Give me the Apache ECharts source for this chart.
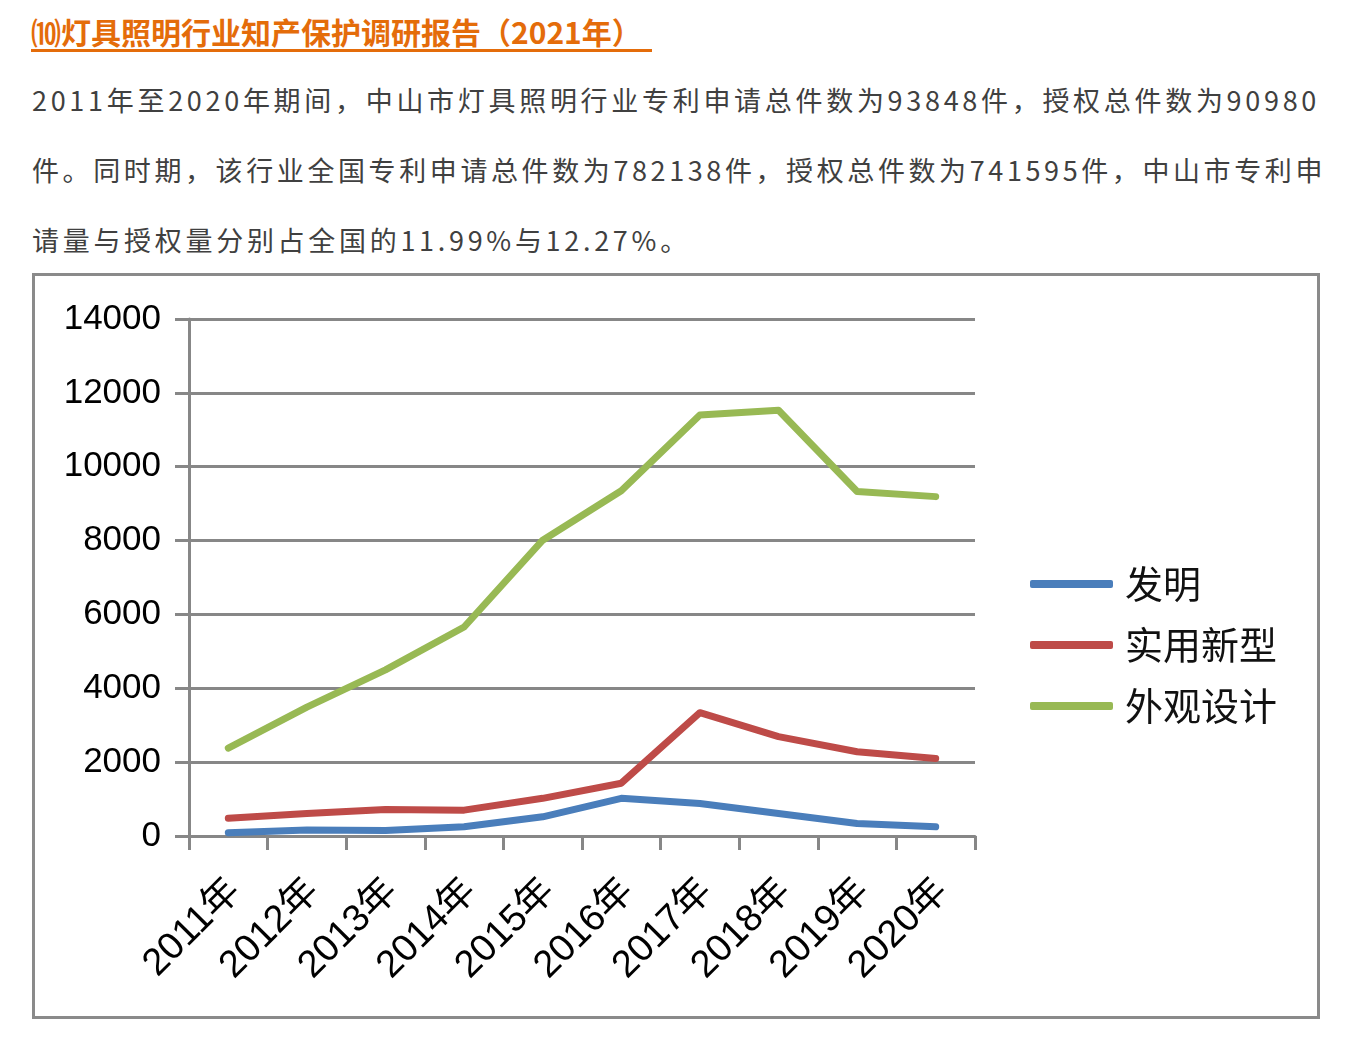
<!DOCTYPE html>
<html>
<head>
<meta charset="utf-8">
<script src="https://cdn.jsdelivr.net/npm/echarts@6/dist/echarts.min.js"></script>
<style>
  html, body { margin: 0; padding: 0; background: #fff; }
  body { width: 1358px; height: 1063px; position: relative; overflow: hidden; }
  .title {
    position: absolute; left: 31px; top: 13px;
    font-family: "Noto Sans CJK SC", sans-serif; font-weight: bold;
    font-size: 30px; line-height: 36px; color: #e46c0a;
    border-bottom: 3px solid #e46c0a; padding-right: 10px;
  }
  .para div {
    position: absolute; left: 32px;
    font-family: "Noto Sans CJK SC", sans-serif;
    font-size: 27px; line-height: 40px; color: #404040; letter-spacing: 3.7px;
    white-space: nowrap;
  }
  .box {
    position: absolute; left: 32px; top: 273px; width: 1282px; height: 740px;
    border: 3px solid #8a8a8a;
  }
  #chart { width: 1282px; height: 740px; }
</style>
</head>
<body>
<div class="title">⑽灯具照明行业知产保护调研报告（2021年）</div>
<div class="para">
  <div style="top:80px">2011年至2020年期间，中山市灯具照明行业专利申请总件数为93848件，授权总件数为90980</div>
  <div style="top:150px;letter-spacing:3.6px">件。同时期，该行业全国专利申请总件数为782138件，授权总件数为741595件，中山市专利申</div>
  <div style="top:220px">请量与授权量分别占全国的11.99%与12.27%。</div>
</div>
<div class="box"><div id="chart"></div></div>
<script>
// 年份
const years = ['2011年', '2012年', '2013年', '2014年', '2015年', '2016年', '2017年', '2018年', '2019年', '2020年']
// 发明
const invention = [90, 160, 150, 250, 520, 1020, 880, 610, 340, 250]
// 实用新型
const utilityModel = [480, 610, 720, 700, 1020, 1430, 3340, 2690, 2280, 2100]
// 外观设计
const design = [2380, 3490, 4500, 5660, 8010, 9350, 11400, 11530, 9330, 9190]

const seriesNames = ['发明', '实用新型', '外观设计']
const seriesColors = ['#4a7ebb', '#be4b48', '#98b954']

const chart = echarts.init(document.getElementById('chart'))
const lineSeries = (name, data, color) => ({
  name,
  type: 'line',
  data,
  symbol: 'none',
  lineStyle: { color, width: 7, cap: 'round', join: 'round' },
  itemStyle: { color },
})

chart.setOption({
  animation: false,
  grid: { left: 154, top: 43, width: 786, height: 517, containLabel: false },
  legend: {
    orient: 'vertical',
    left: 995,
    top: 288,
    padding: 0,
    icon: 'roundRect',
    itemWidth: 83,
    itemHeight: 8,
    itemGap: 21,
    data: seriesNames,
    textStyle: {
      fontFamily: '"Noto Sans CJK SC", serif',
      fontSize: 38,
      lineHeight: 40,
      color: '#111',
      padding: [0, 0, 0, 7],
    },
  },
  xAxis: {
    type: 'category',
    data: years,
    boundaryGap: true,
    axisLine: { lineStyle: { color: '#878787', width: 3 } },
    axisTick: { show: true, length: 14, lineStyle: { color: '#878787', width: 3 } },
    axisLabel: {
      rotate: 45,
      margin: 43,
      verticalAlign: 'top',
      lineHeight: 18,
      fontSize: 38,
      fontFamily: '"Liberation Sans", "Noto Sans CJK SC", sans-serif',
      color: '#000',
    },
  },
  yAxis: {
    type: 'value',
    min: 0,
    max: 14000,
    interval: 2000,
    axisLine: { show: true, lineStyle: { color: '#878787', width: 3 } },
    axisTick: { show: true, length: 14, lineStyle: { color: '#878787', width: 3 } },
    splitLine: { lineStyle: { color: '#878787', width: 3 } },
    axisLabel: {
      margin: 28,
      fontSize: 35,
      fontFamily: '"Liberation Sans", sans-serif',
      color: '#000',
      formatter: v => String(v),
    },
  },
  series: [
    lineSeries(seriesNames[0], invention, seriesColors[0]),
    lineSeries(seriesNames[1], utilityModel, seriesColors[1]),
    lineSeries(seriesNames[2], design, seriesColors[2]),
  ],
})
</script>
</body>
</html>
